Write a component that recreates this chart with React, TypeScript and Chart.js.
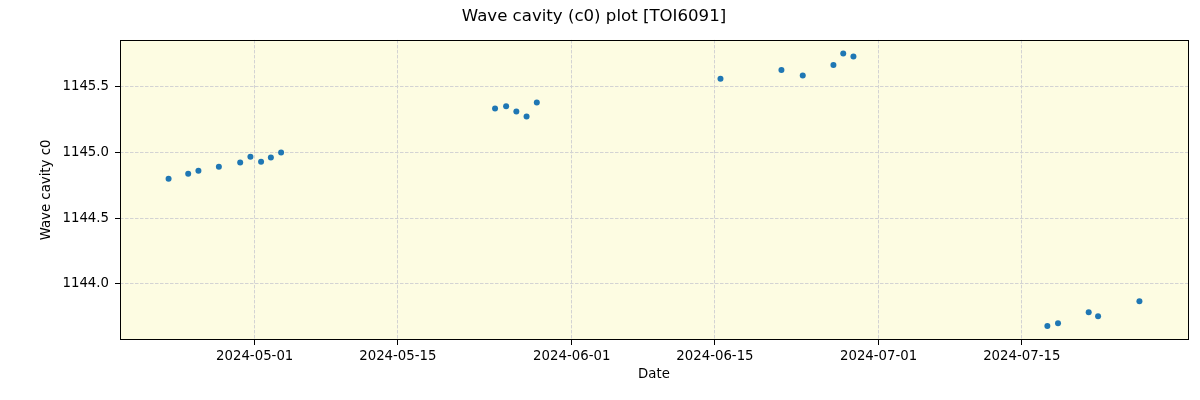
import React, { useEffect, useRef } from "react";
import { Chart, registerables } from "chart.js";

Chart.register(...registerables);

const obsDates: string[] = [
  "2024-04-22T14:00Z", "2024-04-24T12:00Z", "2024-04-25T12:00Z", "2024-04-27T12:00Z",
  "2024-04-29T14:00Z", "2024-04-30T14:00Z", "2024-05-01T15:00Z", "2024-05-02T14:00Z",
  "2024-05-03T14:00Z",
  "2024-05-24T12:00Z", "2024-05-25T14:00Z", "2024-05-26T14:00Z", "2024-05-27T14:00Z",
  "2024-05-28T14:00Z",
  "2024-06-15T13:00Z", "2024-06-21T12:00Z", "2024-06-23T14:00Z", "2024-06-26T14:00Z",
  "2024-06-27T13:00Z", "2024-06-28T13:00Z",
  "2024-07-17T12:00Z", "2024-07-18T13:00Z", "2024-07-21T13:00Z", "2024-07-22T11:00Z",
  "2024-07-26T12:00Z",
];

const c0Values: number[] = [
  1144.800, 1144.838, 1144.861, 1144.891,
  1144.922, 1144.967, 1144.929, 1144.960,
  1144.998,
  1145.333, 1145.350, 1145.310, 1145.272,
  1145.379,
  1145.559, 1145.627, 1145.584, 1145.665,
  1145.751, 1145.728,
  1143.680, 1143.701, 1143.784, 1143.754,
  1143.868,
];

const xTickDates: string[] = [
  "2024-05-01", "2024-05-15", "2024-06-01", "2024-06-15", "2024-07-01", "2024-07-15",
];
const yTickValues: number[] = [1144.0, 1144.5, 1145.0, 1145.5];

const xMinDate = "2024-04-17T20:00Z";
const xMaxDate = "2024-07-31T06:00Z";
const yMin = 1143.573;
const yMax = 1145.855;

const FONT = "'DejaVu Sans', sans-serif";

function fmtDate(ms: number): string {
  const d = new Date(ms);
  const p = (n: number) => String(n).padStart(2, "0");
  return `${d.getUTCFullYear()}-${p(d.getUTCMonth() + 1)}-${p(d.getUTCDate())}`;
}

const framePlugin = {
  id: "frame",
  beforeDraw(chart: any) {
    const { ctx, chartArea: a } = chart;
    ctx.save();
    ctx.fillStyle = "#ffffff";
    ctx.fillRect(0, 0, chart.width, chart.height);
    ctx.fillStyle = "#fdfce2";
    ctx.fillRect(a.left, a.top, a.right - a.left, a.bottom - a.top);
    ctx.restore();
  },
  afterDatasetsDraw(chart: any) {
    const { ctx, chartArea: a } = chart;
    const l = Math.round(a.left) + 0.5;
    const t = Math.round(a.top) + 0.5;
    const r = Math.round(a.right) + 0.5;
    const b = Math.round(a.bottom) - 0.5;
    ctx.save();
    ctx.strokeStyle = "#000000";
    ctx.lineWidth = 1;
    ctx.strokeRect(l, t, r - l, b - t);
    ctx.restore();
  },
};

export default function App() {
  const ref = useRef<HTMLCanvasElement | null>(null);

  useEffect(() => {
    document.body.style.margin = "0";
    const canvas = ref.current;
    if (!canvas) return;
    const points = obsDates.map((d, i) => ({ x: Date.parse(d), y: c0Values[i] }));
    const chart = new Chart(canvas, {
      type: "scatter",
      data: {
        datasets: [
          {
            data: points,
            backgroundColor: "#1f77b4",
            borderColor: "#1f77b4",
            pointRadius: 3,
            pointHoverRadius: 3,
            borderWidth: 0,
          },
        ],
      },
      options: {
        responsive: false,
        animation: false,
        events: [],
        layout: { padding: { left: 0, right: 12, top: 0, bottom: 0 } },
        plugins: {
          legend: { display: false },
          tooltip: { enabled: false },
          title: {
            display: true,
            text: "Wave cavity (c0) plot [TOI6091]",
            color: "#000000",
            font: { family: FONT, size: 16.6, weight: "normal", lineHeight: 1.2 },
            padding: { top: 6.5, bottom: 13.5 },
          },
        },
        scales: {
          x: {
            type: "linear",
            min: Date.parse(xMinDate),
            max: Date.parse(xMaxDate),
            afterBuildTicks(scale: any) {
              scale.ticks = xTickDates.map((d) => ({ value: Date.parse(d + "T00:00Z") }));
            },
            afterFit(scale: any) {
              scale.height = 60;
            },
            border: { display: false, dash: [3.5, 1.5] },
            grid: {
              color: "#d3d3d3",
              lineWidth: 1,
              tickColor: "#000000",
              tickLength: 5,
              tickBorderDash: [],
            },
            ticks: {
              autoSkip: false,
              maxRotation: 0,
              color: "#000000",
              padding: 4,
              font: { family: FONT, size: 13.3 },
              callback: (v: any) => fmtDate(Number(v)),
            },
            title: {
              display: true,
              text: "Date",
              color: "#000000",
              font: { family: FONT, size: 13.3 },
              padding: { top: 0, bottom: 17 },
            },
          },
          y: {
            type: "linear",
            min: yMin,
            max: yMax,
            afterBuildTicks(scale: any) {
              scale.ticks = yTickValues.map((v) => ({ value: v }));
            },
            afterFit(scale: any) {
              scale.width = 120;
            },
            border: { display: false, dash: [3.5, 1.5] },
            grid: {
              color: "#d3d3d3",
              lineWidth: 1,
              tickColor: "#000000",
              tickLength: 5,
              tickBorderDash: [],
            },
            ticks: {
              autoSkip: false,
              color: "#000000",
              padding: 6,
              font: { family: FONT, size: 13.3 },
              callback: (v: any) => Number(v).toFixed(1),
            },
            title: {
              display: true,
              text: "Wave cavity c0",
              color: "#000000",
              font: { family: FONT, size: 13.3 },
              padding: { top: 39, bottom: 0 },
            },
          },
        },
      },
      plugins: [framePlugin],
    });
    return () => chart.destroy();
  }, []);

  return (
    <div style={{ position: "fixed", left: 0, top: 0, width: 1200, height: 400, background: "#ffffff" }}>
      <canvas ref={ref} width={1200} height={400} style={{ display: "block", width: 1200, height: 400 }} />
    </div>
  );
}
